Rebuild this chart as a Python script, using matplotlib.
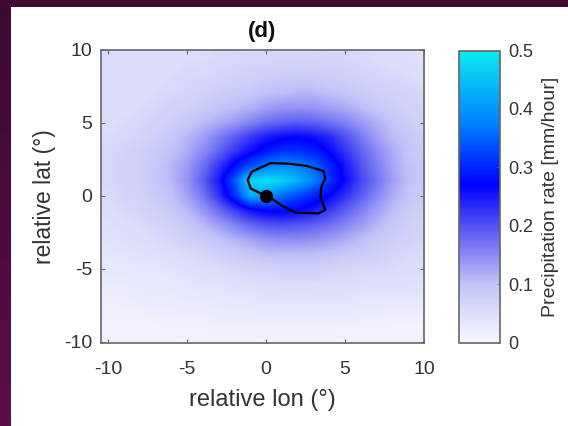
import numpy as np
import matplotlib
matplotlib.use("Agg")
import matplotlib.pyplot as plt
from matplotlib.colors import LinearSegmentedColormap

plt.rcParams['font.family'] = ['Liberation Sans', 'DejaVu Sans']
plt.rcParams['axes.unicode_minus'] = False

# grid coordinates (degrees)
lon = list(range(-10, 11))
lat = list(range(10, -11, -1))

# precipitation rate [mm/hour], rows from lat 10 (top) to lat -10 (bottom), columns lon -10..10
precip = [
    [0.05,0.05,0.05,0.05,0.05,0.05,0.05,0.055,0.055,0.06,0.06,0.06,0.06,0.06,0.06,0.055,0.055,0.05,0.05,0.045,0.045],
    [0.05,0.05,0.05,0.05,0.05,0.055,0.055,0.06,0.06,0.065,0.065,0.07,0.07,0.07,0.065,0.065,0.06,0.055,0.05,0.05,0.045],
    [0.05,0.05,0.05,0.05,0.055,0.06,0.06,0.065,0.07,0.075,0.08,0.085,0.085,0.085,0.08,0.075,0.07,0.065,0.06,0.055,0.05],
    [0.05,0.05,0.05,0.055,0.06,0.065,0.07,0.08,0.085,0.09,0.10,0.105,0.11,0.11,0.10,0.095,0.085,0.075,0.07,0.065,0.06],
    [0.05,0.05,0.055,0.06,0.07,0.075,0.085,0.095,0.105,0.115,0.13,0.14,0.14,0.14,0.13,0.12,0.105,0.09,0.08,0.07,0.065],
    [0.05,0.055,0.06,0.07,0.075,0.09,0.105,0.12,0.135,0.155,0.175,0.185,0.19,0.185,0.17,0.155,0.135,0.115,0.095,0.08,0.07],
    [0.055,0.06,0.065,0.075,0.09,0.11,0.13,0.16,0.19,0.22,0.245,0.26,0.265,0.255,0.235,0.20,0.165,0.13,0.105,0.09,0.075],
    [0.06,0.065,0.075,0.085,0.10,0.12,0.15,0.185,0.225,0.26,0.29,0.31,0.31,0.295,0.265,0.225,0.185,0.15,0.12,0.095,0.08],
    [0.06,0.07,0.075,0.09,0.11,0.135,0.175,0.225,0.28,0.33,0.37,0.39,0.38,0.35,0.30,0.25,0.20,0.16,0.125,0.10,0.085],
    [0.06,0.07,0.075,0.09,0.11,0.14,0.19,0.25,0.34,0.47,0.49,0.47,0.43,0.38,0.31,0.26,0.21,0.17,0.13,0.10,0.085],
    [0.055,0.065,0.07,0.085,0.10,0.13,0.17,0.23,0.31,0.43,0.41,0.36,0.33,0.30,0.27,0.23,0.19,0.155,0.12,0.095,0.08],
    [0.05,0.06,0.065,0.075,0.09,0.11,0.14,0.18,0.22,0.26,0.28,0.28,0.27,0.25,0.22,0.19,0.16,0.13,0.105,0.085,0.075],
    [0.045,0.05,0.055,0.065,0.075,0.09,0.11,0.135,0.16,0.185,0.20,0.205,0.20,0.19,0.175,0.155,0.135,0.11,0.09,0.075,0.065],
    [0.04,0.045,0.05,0.055,0.065,0.075,0.085,0.10,0.115,0.13,0.145,0.15,0.15,0.145,0.135,0.12,0.105,0.09,0.08,0.07,0.06],
    [0.035,0.04,0.04,0.045,0.05,0.055,0.065,0.075,0.085,0.095,0.105,0.105,0.105,0.105,0.10,0.09,0.085,0.075,0.065,0.06,0.055],
    [0.03,0.03,0.035,0.035,0.04,0.045,0.05,0.055,0.06,0.065,0.07,0.075,0.075,0.075,0.07,0.065,0.06,0.06,0.055,0.05,0.05],
    [0.025,0.025,0.03,0.03,0.03,0.035,0.04,0.04,0.045,0.05,0.05,0.055,0.055,0.055,0.05,0.05,0.05,0.045,0.045,0.045,0.04],
    [0.02,0.02,0.025,0.025,0.025,0.03,0.03,0.03,0.035,0.035,0.04,0.04,0.04,0.04,0.04,0.04,0.035,0.035,0.035,0.035,0.035],
    [0.015,0.015,0.015,0.02,0.02,0.02,0.02,0.025,0.025,0.025,0.03,0.03,0.03,0.03,0.03,0.03,0.025,0.025,0.02,0.02,0.02],
    [0.01,0.01,0.01,0.01,0.012,0.012,0.012,0.015,0.015,0.015,0.015,0.015,0.015,0.015,0.015,0.012,0.012,0.01,0.01,0.01,0.01],
    [0.01,0.01,0.01,0.01,0.01,0.01,0.01,0.01,0.01,0.01,0.01,0.01,0.01,0.01,0.01,0.01,0.01,0.01,0.01,0.01,0.01],
]

# black outline polygon (lon, lat)
outline_lon = [0.0, -0.96, -1.15, -0.9, -0.25, 0.3, 1.5, 2.6, 3.65, 3.75, 3.5, 3.45, 3.75, 3.35, 1.9, 1.05, 0.45, 0.0]
outline_lat = [0.0, 0.5, 1.1, 1.65, 1.98, 2.25, 2.2, 2.05, 1.7, 1.2, 0.6, -0.1, -0.95, -1.2, -1.15, -0.7, -0.25, 0.0]

center_lon = [0.0]
center_lat = [0.0]

xticks = [-10, -5, 0, 5, 10]
yticks = [-10, -5, 0, 5, 10]
cticks = [0, 0.1, 0.2, 0.3, 0.4, 0.5]
ctick_labels = ['0', '0.1', '0.2', '0.3', '0.4', '0.5']

cmap = LinearSegmentedColormap.from_list(
    "precip",
    [(0.0, (0.97, 0.97, 1.0)),
     (0.2, (0.76, 0.76, 0.97)),
     (0.4, (0.32, 0.32, 0.95)),
     (0.54, (0.0, 0.0, 1.0)),
     (0.75, (0.0, 0.5, 1.0)),
     (1.0, (0.05, 0.92, 0.95))])

W, H = 568, 426
fig = plt.figure(figsize=(W / 100, H / 100), dpi=100)
fig.patch.set_facecolor('white')

# purple frame strips (screenshot border)
grad = np.linspace(0, 1, 100).reshape(-1, 1)
frame_cmap = LinearSegmentedColormap.from_list("frame", [(0.36, 0.05, 0.29), (0.24, 0.04, 0.18)])
axl = fig.add_axes([0, 0, 11 / W, 1])
axl.imshow(grad, cmap=frame_cmap, aspect='auto', origin='lower', extent=(0, 1, 0, 1))
axl.axis('off')
axt = fig.add_axes([0, 1 - 7 / H, 1, 7 / H])
axt.set_facecolor((0.26, 0.04, 0.19))
axt.set_xticks([]); axt.set_yticks([])
for s in axt.spines.values():
    s.set_visible(False)

tc = '#333333'
ec = '#666666'
ax = fig.add_axes([100.7 / W, 1 - 342.5 / H, 323.3 / W, 292.5 / H])
Z = np.array(precip)
im = ax.imshow(Z, cmap=cmap, vmin=0, vmax=0.5, interpolation='bilinear',
               extent=(min(lon) - 0.5, max(lon) + 0.5, min(lat) - 0.5, max(lat) + 0.5),
               origin='upper', aspect='auto')
ax.plot(outline_lon, outline_lat, color='black', lw=1.6)
ax.plot(center_lon, center_lat, 'o', color='black', ms=8.5)
ax.set_xlim(-10.45, 10.0)
ax.set_ylim(-10.05, 10.0)
ax.set_xticks(xticks)
ax.set_yticks(yticks)
ax.tick_params(direction='in', length=3, width=0.8, colors=ec, labelcolor=tc,
               labelsize=14, top=True, right=True)
ax.tick_params(axis='x', pad=13)
ax.tick_params(axis='y', pad=6)
for s in ax.spines.values():
    s.set_color(ec)
    s.set_linewidth(1.2)
ax.set_xlabel('relative lon (°)', fontsize=17, color=tc, labelpad=8)
ax.set_ylabel('relative lat (°)', fontsize=16.5, color=tc, labelpad=6)
ax.set_title('(d)', fontsize=16, fontweight='bold', color='#111111', pad=9.5)

cax = fig.add_axes([459 / W, 1 - 342.5 / H, 41 / W, 292 / H])
cb = fig.colorbar(im, cax=cax, ticks=cticks)
cb.ax.set_yticklabels(ctick_labels)
cb.ax.tick_params(direction='in', length=2, width=0.6, colors=ec, labelcolor=tc, labelsize=13, pad=6)
cb.outline.set_edgecolor(ec)
cb.outline.set_linewidth(1.2)
cb.set_label('Precipitation rate [mm/hour]', fontsize=14, color=tc, labelpad=6)

fig.savefig('out.png', dpi=100, facecolor='white')
